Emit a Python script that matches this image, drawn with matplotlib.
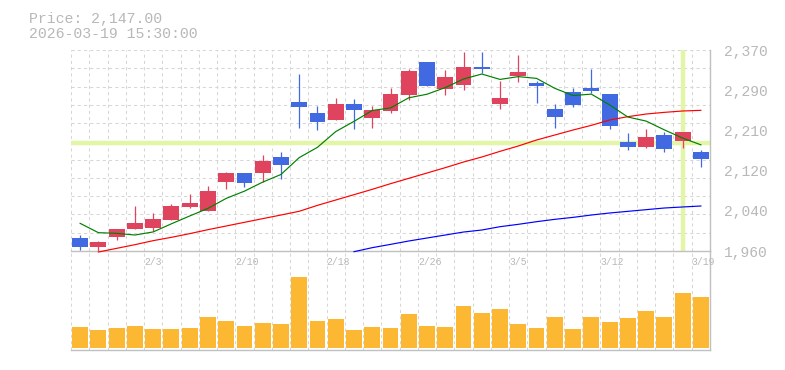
import numpy as np
import matplotlib
matplotlib.use("Agg")
import matplotlib.pyplot as plt

# ---------------- data ----------------
dates = ['1/28', '1/29', '1/30', '2/2', '2/3', '2/4', '2/5', '2/6', '2/9', '2/10',
         '2/12', '2/13', '2/16', '2/17', '2/18', '2/19', '2/20', '2/24', '2/25', '2/26',
         '2/27', '3/2', '3/3', '3/4', '3/5', '3/6', '3/9', '3/10', '3/11', '3/12',
         '3/13', '3/16', '3/17', '3/18', '3/19']
label_dates = ['2/3', '2/10', '2/18', '2/26', '3/5', '3/12', '3/19']

opens = [1985.9, 1968.8, 1989.2, 2004.9, 2007.6, 2023.9, 2049.8, 2041.6, 2101.4, 2119.1,
         2119.8, 2151.7, 2263.9, 2241.5, 2227.2, 2259.9, 2231.3, 2245.6, 2278.2, 2345.5,
         2290.4, 2298.6, 2335.3, 2259.9, 2317.0, 2302.0, 2249.6, 2284.3, 2292.5, 2280.2,
         2182.3, 2172.1, 2196.6, 2185.0, 2161.9]
highs = [1992.6, 1980.4, 2004.9, 2051.8, 2037.5, 2055.9, 2076.3, 2093.3, 2121.1, 2119.1,
         2155.8, 2161.9, 2321.0, 2255.8, 2272.1, 2270.0, 2255.8, 2292.5, 2331.2, 2345.5,
         2329.2, 2365.9, 2365.9, 2306.8, 2359.8, 2307.4, 2259.9, 2292.5, 2331.9, 2280.2,
         2200.7, 2208.9, 2202.7, 2202.7, 2166.0]
lows = [1962.0, 1960.7, 1982.4, 2004.9, 2000.8, 2023.9, 2048.4, 2041.6, 2087.1, 2091.2,
        2101.4, 2107.5, 2211.6, 2206.8, 2227.2, 2208.9, 2210.9, 2241.5, 2268.0, 2296.6,
        2278.2, 2288.4, 2322.4, 2249.6, 2304.7, 2261.9, 2210.9, 2253.7, 2281.6, 2208.9,
        2166.0, 2170.1, 2161.9, 2170.1, 2131.3]
closes = [1968.8, 1978.3, 2004.9, 2017.1, 2025.3, 2051.8, 2057.9, 2082.4, 2119.1, 2099.4,
          2143.6, 2136.1, 2254.4, 2223.8, 2259.9, 2247.6, 2247.6, 2280.2, 2327.2, 2296.6,
          2314.9, 2335.3, 2331.2, 2272.1, 2325.1, 2296.6, 2234.0, 2257.8, 2286.4, 2215.6,
          2172.8, 2192.5, 2168.0, 2202.7, 2147.0]

ma5 = [2016.4, 1997.4, 1996.0, 1992.6, 1998.9, 2015.5, 2031.4, 2046.9, 2067.3, 2082.1,
       2100.5, 2116.1, 2150.5, 2171.5, 2203.6, 2224.4, 2246.7, 2251.8, 2272.5, 2279.8,
       2293.3, 2310.8, 2321.0, 2310.0, 2315.7, 2312.1, 2291.8, 2277.1, 2280.0, 2258.1,
       2233.3, 2225.0, 2207.1, 2190.3, 2176.6]
ma25 = [np.nan, 1958.0, 1965.4, 1972.9, 1981.1, 1987.9, 1995.4, 2003.5, 2011.0, 2018.5,
        2026.0, 2033.4, 2041.0, 2053.1, 2064.0, 2074.9, 2085.8, 2097.3, 2108.2, 2119.1,
        2130.0, 2141.5, 2151.7, 2163.3, 2174.2, 2186.4, 2196.6, 2206.8, 2216.3, 2227.2,
        2234.0, 2239.4, 2242.8, 2245.6, 2246.9]
ma75 = [np.nan] * 15 + [1958.6, 1966.8, 1973.5, 1980.4, 1986.5, 1992.6, 1998.7, 2002.8,
                        2009.6, 2014.4, 2019.8, 2024.6, 2028.6, 2033.4, 2037.5, 2040.9,
                        2044.3, 2047.7, 2049.8, 2051.8]

volumes = [630, 540, 600, 660, 570, 570, 600, 930, 810, 660,
           750, 720, 2130, 810, 870, 540, 630, 600, 1020, 660,
           630, 1260, 1050, 1170, 720, 600, 930, 570, 930, 780,
           900, 1110, 930, 1650, 1530]

cross_index = 33
cross_price = 2180.3
price_min, price_max = 1960, 2370
timestamp = '2026-03-19 15:30:00'

# ---------------- style ----------------
FONT = 'Liberation Mono'
UP = '#e0435e'
DOWN = '#4169e1'
VOLC = '#fdb833'
GRID = '#d6d6d6'
SPINE = '#c0c0c0'
TXT = '#b8b8b8'
CROSS = '#e3f5a6'

n = len(dates)
x = np.arange(n)

fig = plt.figure(figsize=(7.85, 3.7), dpi=100)
L, W = 71 / 785, 639 / 785
ax = fig.add_axes([L, 119 / 370, W, 201 / 370])
axv = fig.add_axes([L, 20 / 370, W, 99 / 370])
axv.set_facecolor('none')

for a in (ax, axv):
    a.set_xlim(-0.5, n - 0.5)
    a.set_xticks([])
    a.set_xticks(np.arange(-0.5, n, 1.0), minor=True)
    a.xaxis.remove_overlapping_locs = False
    a.grid(which='minor', axis='x', color=GRID, linestyle=(0, (3, 3)), linewidth=0.75)
    a.tick_params(which='both', length=0)
    a.spines['left'].set_visible(False)
    a.spines['top'].set_visible(False)
    a.spines['right'].set_color(SPINE)
    a.spines['bottom'].set_color(SPINE)
    a.spines['right'].set_linewidth(1.0)
    a.spines['bottom'].set_linewidth(1.0)
    a.set_axisbelow(True)

# price axis
ax.set_ylim(price_min, price_max)
ax.yaxis.tick_right()
lab_vals = np.linspace(price_min, price_max, 6)
ax.set_yticks(lab_vals)
ax.set_yticklabels([f"{round(v, -1):,.0f}" for v in lab_vals],
                   fontfamily=FONT, fontsize=10.5, color=TXT)
ax.set_yticks(np.linspace(price_min, price_max, 12), minor=True)
ax.yaxis.remove_overlapping_locs = False
ax.grid(which='minor', axis='y', color=GRID, linestyle=(0, (3, 3)), linewidth=0.75)
ax.grid(which='major', visible=False)
ax.grid(which='minor', axis='x', color=GRID, linestyle=(0, (3, 3)), linewidth=0.75)
ax.tick_params(axis='y', which='major', length=0, pad=10)

# crosshair
ax.axhline(cross_price, color=CROSS, linewidth=3.2, zorder=1)
ax.axvline(cross_index, ymin=0.005, ymax=0.993, color=CROSS, linewidth=3.2, zorder=1)

# candles
colors = [UP if c >= o else DOWN for o, c in zip(opens, closes)]
ax.vlines(x, lows, highs, colors=colors, linewidth=0.9, zorder=3)
bodies = [max(abs(c - o), 1.0) for o, c in zip(opens, closes)]
ax.bar(x, bodies, bottom=np.minimum(opens, closes), width=0.87, color=colors,
       linewidth=0, zorder=4)

# moving averages
ax.plot(x, ma75, color='#0000ff', linewidth=0.85, zorder=5, clip_on=False)
ax.plot(x, ma25, color='#ff0000', linewidth=0.85, zorder=5, clip_on=False)
ax.plot(x, ma5, color='#008000', linewidth=0.85, zorder=5, clip_on=False)

# volume
axv.set_ylim(-60, 2910)
axv.set_yticks([])
axv.bar(x, volumes, width=0.87, color=VOLC, linewidth=0, zorder=3)

# date labels
for i, d in enumerate(dates):
    if d in label_dates:
        axv.annotate(d, xy=(i - 0.5, 1.0), xycoords=('data', 'axes fraction'),
                     xytext=(0, -8), textcoords='offset points',
                     ha='left', va='center', fontfamily=FONT, fontsize=7.0,
                     color=TXT)

# header text
fig.text(29 / 785, 1 - 18.5 / 370, f"Price: {closes[-1]:,.2f}", fontfamily=FONT,
         fontsize=10.7, color=TXT, va='center', ha='left')
fig.text(29 / 785, 1 - 33.5 / 370, timestamp, fontfamily=FONT,
         fontsize=10.7, color=TXT, va='center', ha='left')

fig.savefig('out.png', dpi=100)
